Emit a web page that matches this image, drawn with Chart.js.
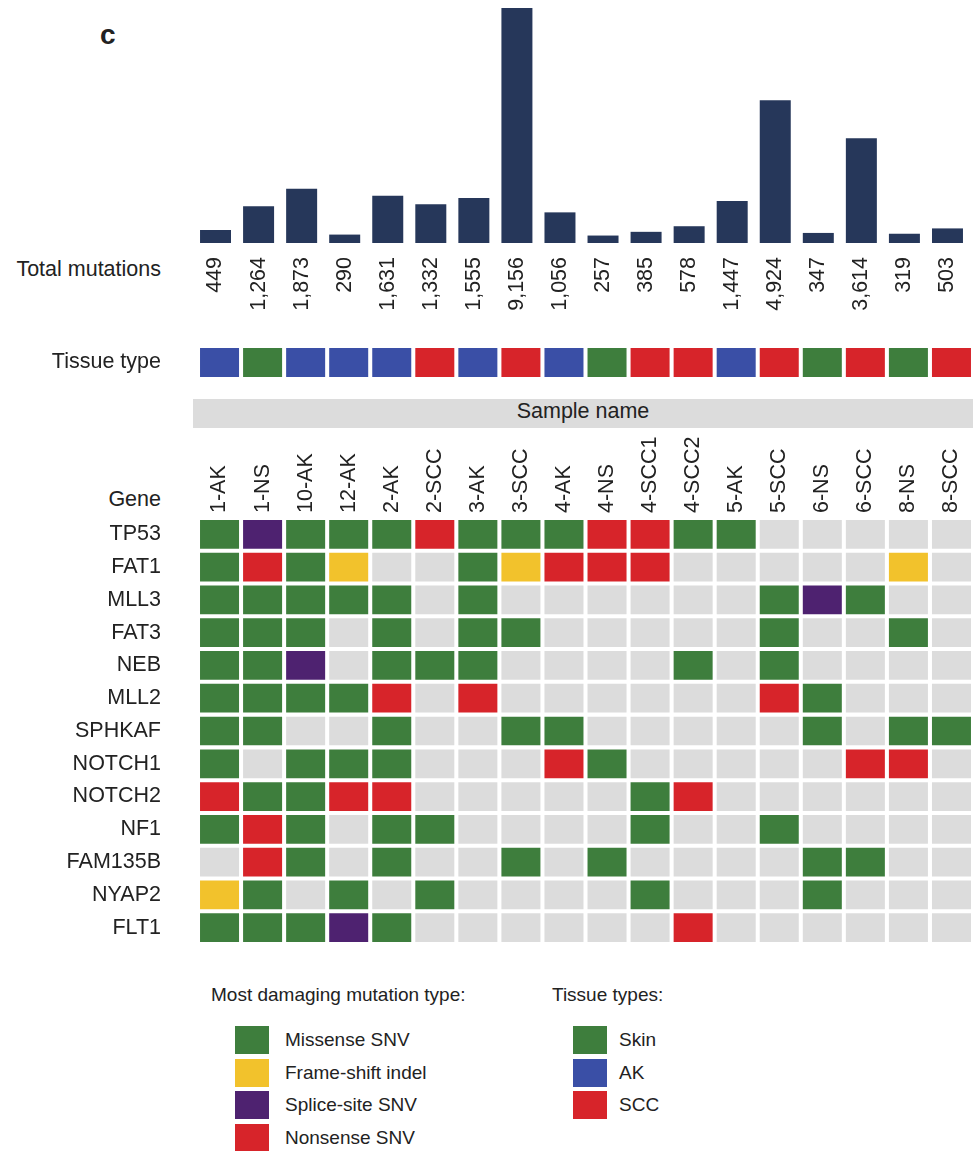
<!DOCTYPE html>
<html>
<head>
<meta charset="utf-8">
<script src="https://cdn.jsdelivr.net/npm/chart.js@4.4.1/dist/chart.umd.min.js"></script>
<style>
  html, body { margin: 0; padding: 0; background: #fff; overflow: hidden; }
  body { position: relative; width: 973px; height: 1151px; font-family: "Liberation Sans", Arial, sans-serif; color: #222; }
  .abs { position: absolute; }
  .label { font-size: 21.5px; line-height: 1; white-space: nowrap; }
  #panel { left: 100px; top: 21px; font-size: 28px; font-weight: bold; line-height: 1; }
  #totalTitle { left: 0; width: 161px; text-align: right; top: 259px; }
  #geneTitle { left: 0; width: 161px; text-align: right; top: 489px; }
  #sampleBar { left: 193px; top: 399px; width: 780px; height: 29px; line-height: 25px; background: #dcdcdc; text-align: center; font-size: 21.5px; }
  canvas { position: absolute; left: 0; }
  .legend { font-size: 19px; }
  .legend .title { position: absolute; white-space: nowrap; line-height: 1; }
  .legend .row { position: absolute; height: 28px; white-space: nowrap; }
  .legend .sw { position: absolute; left: 0; top: 0; width: 34px; height: 28px; }
  .legend .txt { position: absolute; top: 0; line-height: 28px; }
</style>
</head>
<body>
<div id="panel" class="abs">c</div>
<div id="totalTitle" class="abs label">Total mutations</div>
<div id="sampleBar" class="abs">Sample name</div>
<div id="geneTitle" class="abs label">Gene</div>
<canvas id="totals" width="973" height="330" style="top:0"></canvas>
<canvas id="tissue" width="973" height="33" style="top:346px"></canvas>
<canvas id="grid" width="973" height="524" style="top:420px"></canvas>
<div id="legendMut" class="abs legend" style="left:211px; top:985px;"></div>
<div id="legendTissue" class="abs legend" style="left:552px; top:985px;"></div>
<script>
// samples in column order
const samples = ['1-AK', '1-NS', '10-AK', '12-AK', '2-AK', '2-SCC', '3-AK', '3-SCC', '4-AK',
  '4-NS', '4-SCC1', '4-SCC2', '5-AK', '5-SCC', '6-NS', '6-SCC', '8-NS', '8-SCC'];
const totalMutations = [449, 1264, 1873, 290, 1631, 1332, 1555, 9156, 1056,
  257, 385, 578, 1447, 4924, 347, 3614, 319, 503];
const sampleTissue = ['AK', 'Skin', 'AK', 'AK', 'AK', 'SCC', 'AK', 'SCC', 'AK',
  'Skin', 'SCC', 'SCC', 'AK', 'SCC', 'Skin', 'SCC', 'Skin', 'SCC'];
// the tallest bar runs past the top of the panel
const totalsAxisMax = 8100;

const genes = ['TP53', 'FAT1', 'MLL3', 'FAT3', 'NEB', 'MLL2', 'SPHKAF', 'NOTCH1',
  'NOTCH2', 'NF1', 'FAM135B', 'NYAP2', 'FLT1'];
// one letter per sample: M missense, F frame-shift, S splice-site, N nonsense, . none
const geneMutations = [
  'MSMMMNMMMNNMM.....',
  'MNMF..MFNNN.....F.',
  'MMMMM.M......MSM..',
  'MMM.M.MM.....M..M.',
  'MMS.MMM....M.M....',
  'MMMMN.N......NM...',
  'MM..M..MM.....M.MM',
  'M.MMM...NM.....NN.',
  'NMMNN.....MN......',
  'MNM.MM....M..M....',
  '.NM.M..M.M....MM..',
  'FM.M.M....M...M...',
  'MMMSM......N......'
];

const mutationCodes = ['M', 'F', 'S', 'N'];
const mutationTypes = ['Missense SNV', 'Frame-shift indel', 'Splice-site SNV', 'Nonsense SNV'];
const mutationColors = ['#3e7e3d', '#f2c22c', '#4e2270', '#d7242a'];
const noMutationColor = '#dcdcdc';

const tissueTypes = ['Skin', 'AK', 'SCC'];
const tissueColors = ['#3e7e3d', '#3a4fa6', '#d7242a'];

const barColor = '#26375a';
const textColor = '#222';

Chart.defaults.font.family = "'Liberation Sans', Arial, sans-serif";
Chart.defaults.font.size = 21.5;
Chart.defaults.color = textColor;

const cellBorder = { barPercentage: 1, categoryPercentage: 1, borderWidth: 2.35, borderColor: '#fff', borderSkipped: false };

// keep tick labels from adding their own margins to the layout
function noLabelPadding(s) {
  s.paddingTop = 0;
  s.paddingBottom = 0;
  s.paddingLeft = 0;
  s.paddingRight = 0;
}

// total mutation counts with the numbers under each bar
new Chart(document.getElementById('totals'), {
  type: 'bar',
  data: {
    labels: samples,
    datasets: [{ data: totalMutations, backgroundColor: barColor, barPercentage: 0.72, categoryPercentage: 1 }]
  },
  options: {
    responsive: false,
    animation: false,
    layout: { padding: { left: 194, right: 4, top: 8 } },
    plugins: { legend: { display: false }, tooltip: { enabled: false } },
    scales: {
      x: {
        grid: { display: false, drawTicks: false },
        border: { display: false },
        ticks: {
          autoSkip: false, minRotation: 90, maxRotation: 90, padding: 14,
          callback: (v, i) => totalMutations[i].toLocaleString('en-US')
        },
        afterFit: s => { s.height = 87; noLabelPadding(s); }
      },
      y: { display: false, min: 0, max: totalsAxisMax }
    }
  }
});

// tissue type strip
new Chart(document.getElementById('tissue'), {
  type: 'bar',
  data: {
    labels: ['Tissue type'],
    datasets: samples.map((s, j) => ({
      label: s,
      data: [1],
      backgroundColor: tissueColors[tissueTypes.indexOf(sampleTissue[j])]
    }))
  },
  options: {
    indexAxis: 'y',
    responsive: false,
    animation: false,
    datasets: { bar: cellBorder },
    plugins: { legend: { display: false }, tooltip: { enabled: false } },
    scales: {
      x: { stacked: true, display: false, min: 0, max: samples.length },
      y: {
        stacked: true,
        grid: { display: false, drawTicks: false },
        border: { display: false },
        ticks: { padding: 37 },
        afterFit: s => { s.width = 198; noLabelPadding(s); }
      }
    }
  }
});

// gene x sample grid, one stacked dataset per sample
new Chart(document.getElementById('grid'), {
  type: 'bar',
  data: {
    labels: genes,
    datasets: samples.map((s, j) => ({
      label: s,
      data: genes.map(() => 1),
      backgroundColor: genes.map((g, r) => {
        const k = mutationCodes.indexOf(geneMutations[r][j]);
        return k < 0 ? noMutationColor : mutationColors[k];
      })
    }))
  },
  options: {
    indexAxis: 'y',
    responsive: false,
    animation: false,
    datasets: { bar: cellBorder },
    plugins: { legend: { display: false }, tooltip: { enabled: false } },
    scales: {
      x: {
        position: 'top',
        stacked: true,
        min: 0,
        max: samples.length,
        grid: { display: false, drawTicks: false },
        border: { display: false },
        afterBuildTicks: s => { s.ticks = samples.map((_, j) => ({ value: j + 0.5 })); },
        ticks: {
          autoSkip: false, minRotation: 90, maxRotation: 90, padding: 5, labelOffset: 25.8,
          callback: v => samples[Math.floor(v)]
        },
        afterFit: s => { s.height = 98; noLabelPadding(s); }
      },
      y: {
        stacked: true,
        grid: { display: false, drawTicks: false },
        border: { display: false },
        ticks: { padding: 37 },
        afterFit: s => { s.width = 198; noLabelPadding(s); }
      }
    }
  }
});

// legends
function buildLegend(el, title, names, colors, swatchLeft, textLeft) {
  const t = document.createElement('div');
  t.className = 'title';
  t.style.left = '0px';
  t.style.top = '0px';
  t.textContent = title;
  el.appendChild(t);
  names.forEach((name, i) => {
    const row = document.createElement('div');
    row.className = 'row';
    row.style.left = swatchLeft + 'px';
    row.style.top = (41 + i * 32.7) + 'px';
    const sw = document.createElement('div');
    sw.className = 'sw';
    sw.style.background = colors[i];
    const txt = document.createElement('div');
    txt.className = 'txt';
    txt.style.left = (textLeft - swatchLeft) + 'px';
    txt.textContent = name;
    row.appendChild(sw);
    row.appendChild(txt);
    el.appendChild(row);
  });
}
buildLegend(document.getElementById('legendMut'), 'Most damaging mutation type:', mutationTypes, mutationColors, 24, 74);
buildLegend(document.getElementById('legendTissue'), 'Tissue types:', tissueTypes, tissueColors, 21, 67);
</script>
</body>
</html>
